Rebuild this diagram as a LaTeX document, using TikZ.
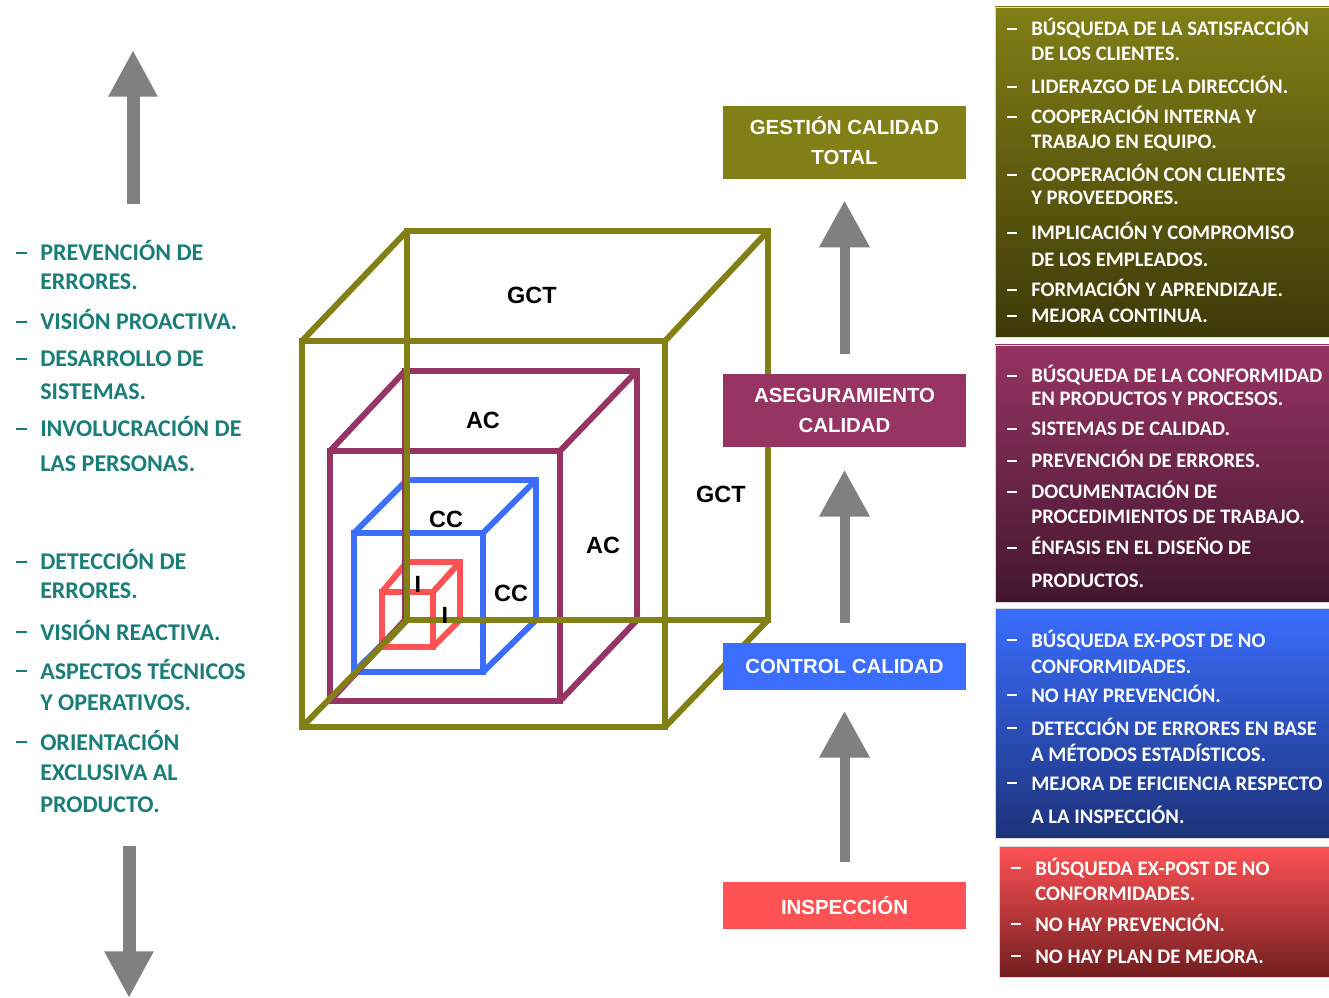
\documentclass[tikz,border=0pt]{standalone}
\usepackage{fontspec}
\setmainfont{Carlito}
\newfontfamily\arialf{Liberation Sans}
\usetikzlibrary{arrows.meta}
\definecolor{cOlive}{RGB}{129,127,22}
\definecolor{cOliveD}{RGB}{62,57,8}
\definecolor{cPurple}{RGB}{150,52,100}
\definecolor{cPurpleD}{RGB}{66,22,46}
\definecolor{cBlue}{RGB}{59,110,255}
\definecolor{cBlueD}{RGB}{28,50,122}
\definecolor{cRed}{RGB}{255,82,85}
\definecolor{cRedD}{RGB}{114,30,32}
\definecolor{cTeal}{RGB}{26,125,120}
\definecolor{cGray}{RGB}{128,128,128}
\newcommand\rdash{\llap{\rule[4.3pt]{7.8pt}{1.7pt}\hskip10.5pt}}
\newcommand\ldash{\llap{\rule[5.2pt]{8.4pt}{1.9pt}\hskip10pt}}
\newcommand\wcube[9]{%
  \draw[cubeline,draw=#1] (#2,#3) rectangle (#4,#5);
  \draw[cubeline,draw=#1] (#6,#7) rectangle (#8,#9);
  \draw[cubeline,draw=#1] (#2,#3) -- (#6,#7) (#4,#3) -- (#8,#7)
        (#4,#5) -- (#8,#9) (#2,#5) -- (#6,#9);}
\begin{document}
\begin{tikzpicture}[x=0.75pt,y=-0.75pt,
  cubeline/.style={line width=4.5pt,line join=miter},
  cubelabel/.style={inner sep=0pt,font=\arialf\bfseries\fontsize{17.6pt}{20pt}\selectfont},
  stage/.style={minimum width=182.25pt,inner sep=0pt,text=white,align=center,
    font=\arialf\bfseries\fontsize{15.3pt}{22.5pt}\selectfont},
  rtext/.style={anchor=base west,inner sep=0pt,text=white,
    font=\bfseries\fontsize{15.5pt}{18pt}\selectfont},
  ltext/.style={anchor=base west,inner sep=0pt,text=cTeal,
    font=\bfseries\fontsize{18pt}{21pt}\selectfont},
  panel/.style={draw=black!15,line width=0.6pt},
  garrow/.style={draw=cGray,line width=7.5pt,-{Triangle[length=35pt,width=36pt]}},
  sidearrow/.style={draw=cGray,line width=9.75pt,-{Triangle[length=35pt,width=34.5pt]}}]
\useasboundingbox (0,0) rectangle (1329,998);

% ---- nested cubes ----
\wcube{cRed}{382}{592}{433}{647}{407}{562}{460}{620}
\wcube{cBlue}{354}{533}{483}{672}{407}{480}{536}{620}
\wcube{cPurple}{330}{451}{560}{701}{405}{371}{637}{620}
\wcube{cOlive}{302}{341}{665}{727}{407}{231}{768}{620}

\node[cubelabel] (lg1) at (532,295) {GCT};
\node[cubelabel] (lg2) at (721,494) {GCT};
\node[cubelabel] (la1) at (483,420) {AC};
\node[cubelabel] (la2) at (603,545) {AC};
\node[cubelabel] (lc1) at (446,519) {CC};
\node[cubelabel] (lc2) at (511,593) {CC};
\node[cubelabel] (li1) at (418,584) {I};
\node[cubelabel] (li2) at (445,615) {I};

% ---- stage boxes ----
\node[stage,fill=cOlive,minimum height=54.75pt] (gct) at (844.5,142.5)
  {\raisebox{0pt}[0.72em]{GESTIÓN CALIDAD}\\TOTAL};
\node[stage,fill=cPurple,minimum height=54.75pt] (ac) at (844.5,410.5) {ASEGURAMIENTO\\CALIDAD};
\node[stage,fill=cBlue,minimum height=35.25pt] (cc) at (844.5,666.5)
  {\raisebox{-1.2pt}{CONTROL CALIDAD}};
\node[stage,fill=cRed,minimum height=35.25pt] (insp) at (844.5,905.5) {INSPECCIÓN};

\draw[garrow,shorten <=15pt,shorten >=15.5pt] (insp.north) -- (cc.south);
\draw[garrow,shorten <=15pt,shorten >=17pt] (cc.north) -- (ac.south);
\draw[garrow,shorten <=14.5pt,shorten >=16pt] (ac.north) -- (gct.south);

% ---- side arrows ----
\coordinate (upS) at (133,204);
\coordinate (upE) at (133,50);
\coordinate (dnS) at (129,846);
\coordinate (dnE) at (129,998);
\draw[sidearrow] (upS) -- (upE);
\draw[sidearrow] (dnS) -- (dnE);

% ---- right panels ----
\shade[panel,top color=cOlive,bottom color=cOliveD] (995,7) rectangle (1329,337);
\shade[panel,top color=cPurple,bottom color=cPurpleD] (995,345) rectangle (1329,602);
\shade[panel,top color=cBlue,bottom color=cBlueD] (995,608) rectangle (1329,838);
\shade[panel,top color=cRed,bottom color=cRedD] (999,846) rectangle (1329,977);

\node[rtext] (o1) at (1031,36) {\rdash BÚSQUEDA DE LA SATISFACCIÓN};
\node[rtext] (o2) at (1031,61) {DE LOS CLIENTES.};
\node[rtext] (o3) at (1031,94) {\rdash LIDERAZGO DE LA DIRECCIÓN.};
\node[rtext] (o4) at (1031,124) {\rdash COOPERACIÓN INTERNA Y};
\node[rtext] (o5) at (1031,149) {TRABAJO EN EQUIPO.};
\node[rtext] (o6) at (1031,182) {\rdash COOPERACIÓN CON CLIENTES};
\node[rtext] (o7) at (1031,205) {Y PROVEEDORES.};
\node[rtext] (o8) at (1031,240) {\rdash IMPLICACIÓN Y COMPROMISO};
\node[rtext] (o9) at (1031,267) {DE LOS EMPLEADOS.};
\node[rtext] (o10) at (1031,297) {\rdash FORMACIÓN Y APRENDIZAJE.};
\node[rtext] (o11) at (1031,323) {\rdash MEJORA CONTINUA.};

\node[rtext] (p1) at (1031,383) {\rdash BÚSQUEDA DE LA CONFORMIDAD};
\node[rtext] (p2) at (1031,406) {EN PRODUCTOS Y PROCESOS.};
\node[rtext] (p3) at (1031,436) {\rdash SISTEMAS DE CALIDAD.};
\node[rtext] (p4) at (1031,468) {\rdash PREVENCIÓN DE ERRORES.};
\node[rtext] (p5) at (1031,499) {\rdash DOCUMENTACIÓN DE};
\node[rtext] (p6) at (1031,524) {PROCEDIMIENTOS DE TRABAJO.};
\node[rtext] (p7) at (1031,555) {\rdash ÉNFASIS EN EL DISEÑO DE};
\node[rtext] (p8) at (1031,587) {PRODUCTOS.};

\node[rtext] (b1) at (1031,647) {\rdash BÚSQUEDA EX-POST DE NO};
\node[rtext] (b2) at (1031,673) {CONFORMIDADES.};
\node[rtext] (b3) at (1031,702) {\rdash NO HAY PREVENCIÓN.};
\node[rtext] (b4) at (1031,735) {\rdash DETECCIÓN DE ERRORES EN BASE};
\node[rtext] (b5) at (1031,761) {A MÉTODOS ESTADÍSTICOS.};
\node[rtext] (b6) at (1031,790) {\rdash MEJORA DE EFICIENCIA RESPECTO};
\node[rtext] (b7) at (1031,823) {A LA INSPECCIÓN.};

\node[rtext] (r1) at (1035,875) {\rdash BÚSQUEDA EX-POST DE NO};
\node[rtext] (r2) at (1035,900) {CONFORMIDADES.};
\node[rtext] (r3) at (1035,931) {\rdash NO HAY PREVENCIÓN.};
\node[rtext] (r4) at (1035,963) {\rdash NO HAY PLAN DE MEJORA.};

% ---- left lists ----
\node[ltext] (t1) at (40,261) {\ldash PREVENCIÓN DE};
\node[ltext] (t2) at (40,290) {ERRORES.};
\node[ltext] (t3) at (40,330) {\ldash VISIÓN PROACTIVA.};
\node[ltext] (t4) at (40,367) {\ldash DESARROLLO DE};
\node[ltext] (t5) at (40,400) {SISTEMAS.};
\node[ltext] (t6) at (40,437) {\ldash INVOLUCRACIÓN DE};
\node[ltext] (t7) at (40,472) {LAS PERSONAS.};

\node[ltext] (s1) at (40,570) {\ldash DETECCIÓN DE};
\node[ltext] (s2) at (40,599) {ERRORES.};
\node[ltext] (s3) at (40,640) {\ldash VISIÓN REACTIVA.};
\node[ltext] (s4) at (40,679) {\ldash ASPECTOS TÉCNICOS};
\node[ltext] (s5) at (40,710) {Y OPERATIVOS.};
\node[ltext] (s6) at (40,750) {\ldash ORIENTACIÓN};
\node[ltext] (s7) at (40,780) {EXCLUSIVA AL};
\node[ltext] (s8) at (40,812) {PRODUCTO.};
\end{tikzpicture}
\end{document}
